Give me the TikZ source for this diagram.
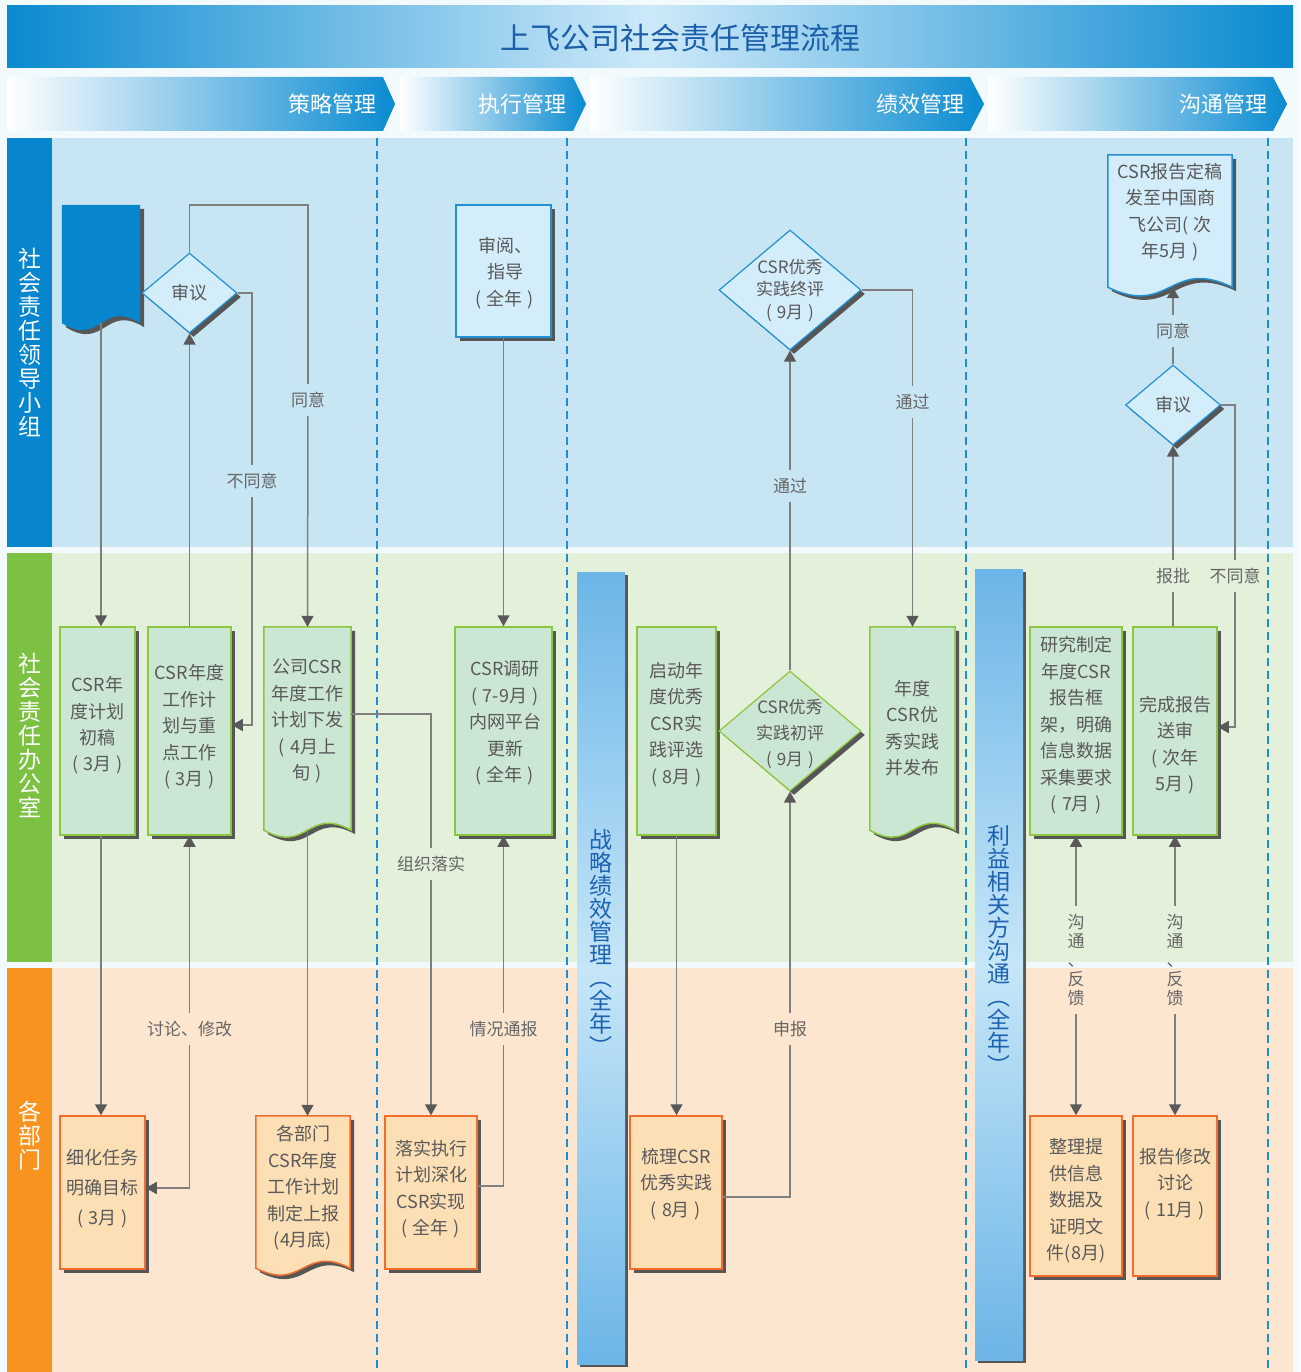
\documentclass[tikz,border=0pt]{standalone}
\usepackage{fontspec}
\setmainfont{Noto Sans CJK SC}
\usetikzlibrary{arrows.meta,shapes.geometric,shadows,calc}
\definecolor{pagebg}{HTML}{F3FAFE}
\definecolor{titleblue}{HTML}{0A8AD0}
\definecolor{titlelight}{HTML}{CDE9F9}
\definecolor{titletext}{HTML}{1B5EAA}
\definecolor{phaseblue}{HTML}{0A8BD1}
\definecolor{laneAbar}{HTML}{0786CE}
\definecolor{laneAbg}{HTML}{C8E5F4}
\definecolor{laneBbar}{HTML}{7DC143}
\definecolor{laneBbg}{HTML}{E3F0DA}
\definecolor{laneCbar}{HTML}{F7931E}
\definecolor{laneCbg}{HTML}{FCE6CF}
\definecolor{dashc}{HTML}{1A8ED6}
\definecolor{linec}{HTML}{7F7F7F}
\definecolor{arrowc}{HTML}{595959}
\definecolor{shadowc}{HTML}{565656}
\definecolor{txtc}{HTML}{595959}
\definecolor{lblc}{HTML}{666666}
\definecolor{bfill}{HTML}{D4EDFA}
\definecolor{bbord}{HTML}{2290D4}
\definecolor{gfill}{HTML}{CCE6D4}
\definecolor{gbord}{HTML}{8DC63F}
\definecolor{ofill}{HTML}{FDDFB5}
\definecolor{obord}{HTML}{F26C2B}
\definecolor{barblue}{HTML}{6BB5E7}
\definecolor{barlight}{HTML}{C6E6F8}
\definecolor{bartext}{HTML}{1E62B2}
\newcommand\lp{(\kern5pt}
\newcommand\rp{\kern5pt)}
\newcommand\docoutline[3]{%
  \path[#2] let \p1=(#1.south west), \p2=(#1.north east), \n1={\x2-\x1} in
    (\x1,\y2) -- (\x2,\y2) -- (\x2,\y1)
    .. controls ({\x1+0.5*\n1},{\y1+#3}) and ({\x1+0.5*\n1},{\y1-#3}) .. (\x1,\y1) -- cycle;}
\begin{document}
\begin{tikzpicture}[x=1pt,y=-1pt,
 cline/.style={draw=linec,line width=1.5pt},
 cend/.style={-{Triangle[width=12pt,length=11pt,color=arrowc]}},
 clabel/.style={font=\fontsize{17}{19}\selectfont,text=lblc,inner xsep=1pt,inner ysep=8pt,align=center},
 dshadow/.style={drop shadow={shadow xshift=4pt,shadow yshift=-4pt,fill=shadowc,opacity=1}},
 nbox/.style={rectangle,line width=1.5pt,inner sep=0pt,dshadow},
 gbox/.style={nbox,draw=gbord,fill=gfill},
 obox/.style={nbox,draw=obord,fill=ofill},
 bbox/.style={nbox,draw=bbord,fill=bfill},
 ndia/.style={diamond,inner sep=0pt,line width=1.2pt,dshadow},
 docnode/.style={rectangle,inner sep=0pt,draw=none,fill=none},
 ntext/.style={text=txtc,align=center,inner sep=0pt,font=\fontsize{18}{#1}\selectfont},
 ntext/.default=26.5,
 lanetxt/.style={text=white,align=center,inner sep=0pt,font=\fontsize{23}{24}\selectfont},
 bartxt/.style={text=bartext,align=center,inner sep=0pt,font=\fontsize{23}{23}\selectfont},
 phasetxt/.style={text=white,anchor=east,inner sep=0pt,font=\fontsize{22}{22}\selectfont},
 dashline/.style={draw=dashc,line width=2pt,dash pattern=on 8pt off 5pt}
]
\useasboundingbox (0,0) rectangle (1300,1372);
\fill[pagebg] (0,0) rectangle (1300,1372);
% title
\shade[left color=titleblue,right color=titleblue,middle color=titlelight] (7,6) rectangle (1293,68);
\node[text=titletext,inner sep=0pt,font=\fontsize{30}{30}\selectfont] (title) at (680,38) {上飞公司社会责任管理流程};
% phases
\shade[left color=white,right color=phaseblue] (7,77) -- (383,77) -- (395,104) -- (383,131) -- (7,131) -- cycle;
\shade[left color=white,right color=phaseblue] (400,77) -- (573,77) -- (586,104) -- (573,131) -- (400,131) -- cycle;
\shade[left color=white,right color=phaseblue] (590,77) -- (970,77) -- (984,104) -- (970,131) -- (590,131) -- cycle;
\shade[left color=white,right color=phaseblue] (988,77) -- (1273,77) -- (1287,104) -- (1273,131) -- (988,131) -- cycle;
\node[phasetxt] (p1) at (377,104) {策略管理};
\node[phasetxt] (p2) at (567,104) {执行管理};
\node[phasetxt] (p3) at (965,104) {绩效管理};
\node[phasetxt] (p4) at (1268,104) {沟通管理};
% lanes
\fill[laneAbg] (52,138) rectangle (1293,547);
\fill[laneAbar] (7,138) rectangle (52,547);
\fill[laneBbg] (52,553) rectangle (1293,962);
\fill[laneBbar] (7,553) rectangle (52,962);
\fill[laneCbg] (52,968) rectangle (1293,1372);
\fill[laneCbar] (7,968) rectangle (52,1372);
\node[lanetxt] (la) at (30,342) {社\\会\\责\\任\\领\\导\\小\\组};
\node[lanetxt] (lb) at (30,735) {社\\会\\责\\任\\办\\公\\室};
\node[lanetxt] (lc) at (30,1136) {各\\部\\门};
% dashed separators
\draw[dashline] (377,138) -- (377,1372);
\draw[dashline] (567,138) -- (567,1372);
\draw[dashline] (966,138) -- (966,1372);
\draw[dashline] (1268,138) -- (1268,1372);
% vertical bars
\fill[shadowc] (580,575) rectangle (628,1367);
\shade[top color=barblue,bottom color=barblue,middle color=barlight] (577,572) rectangle (625,1364);
\node[bartxt] (bt1) at (601,942) {战\\略\\绩\\效\\管\\理\\︵\\全\\年\\︶};
\fill[shadowc] (978,572) rectangle (1026,1363);
\shade[top color=barblue,bottom color=barblue,middle color=barlight] (975,569) rectangle (1023,1360);
\node[bartxt] (bt2) at (999,950) {利\\益\\相\\关\\方\\沟\\通\\︵\\全\\年\\︶};

% ===== lane 1 =====
\node[docnode,minimum width=78pt,minimum height=118pt] (docA) at (101,264) {};
\docoutline{docA}{fill=laneAbar,dshadow}{24}
\node[ndia,fill=bfill,draw=bbord,minimum width=95pt,minimum height=80pt] (dA) at (189.5,293) {};
\node[ntext] (dAt) at (dA) {审议};
\node[bbox,minimum width=95pt,minimum height=132pt] (sy) at (503.5,271) {};
\node[ntext] (syt) at (505,273) {审阅、\\指导\\\lp{}全年\rp{}};
\node[ndia,fill=bfill,draw=bbord,minimum width=142pt,minimum height=120pt] (dB) at (790,290) {};
\node[ntext=22.5,font=\fontsize{17}{22.5}\selectfont] (dBt) at (790,290.5) {CSR优秀\\实践终评\\\lp{}9月\rp{}};
\node[docnode,minimum width=124pt,minimum height=132pt] (doc2) at (1170,221) {};
\docoutline{doc2}{fill=bfill,draw=bbord,line width=1.5pt,dshadow}{30}
\node[ntext] (doc2t) at (1170,212) {CSR报告定稿\\发至中国商\\飞公司\lp{}次\\年5月\rp{}};
\node[ndia,fill=bfill,draw=bbord,minimum width=95pt,minimum height=80pt] (dC) at (1173,405) {};
\node[ntext] (dCt) at (dC) {审议};

% ===== lane 2 =====
\node[gbox,minimum width=75pt,minimum height=208pt] (g1) at (97.5,731) {};
\node[ntext=26.3] (g1t) at (97.5,725.5) {CSR年\\度计划\\初稿\\\lp{}3月\rp{}};
\node[gbox,minimum width=83pt,minimum height=208pt] (g2) at (189.5,731) {};
\node[ntext] (g2t) at (189.5,727) {CSR年度\\工作计\\划与重\\点工作\\\lp{}3月\rp{}};
\node[docnode,minimum width=87pt,minimum height=203pt] (doc3) at (307.5,728.5) {};
\docoutline{doc3}{fill=gfill,draw=gbord,line width=1.5pt,dshadow}{24}
\node[ntext] (doc3t) at (307.5,721) {公司CSR\\年度工作\\计划下发\\\lp{}4月上\\旬\rp{}};
\node[gbox,minimum width=97pt,minimum height=208pt] (g3) at (503.5,731) {};
\node[ntext] (g3t) at (505,723) {CSR调研\\\lp{}7-9月\rp{}\\内网平台\\更新\\\lp{}全年\rp{}};
\node[gbox,minimum width=79pt,minimum height=208pt] (g4) at (676.5,731) {};
\node[ntext] (g4t) at (676.5,724.5) {启动年\\度优秀\\CSR实\\践评选\\\lp{}8月\rp{}};
\node[ndia,fill=gfill,draw=gbord,minimum width=142pt,minimum height=120pt] (dD) at (790,731) {};
\node[ntext=26,font=\fontsize{17}{26}\selectfont] (dDt) at (790,734) {CSR优秀\\实践初评\\\lp{}9月\rp{}};
\node[docnode,minimum width=85pt,minimum height=203pt] (doc4) at (912.5,728.5) {};
\docoutline{doc4}{fill=gfill,draw=gbord,line width=1.5pt,dshadow}{24}
\node[ntext] (doc4t) at (912.5,728) {年度\\CSR优\\秀实践\\并发布};
\node[gbox,minimum width=92pt,minimum height=208pt] (g5) at (1076,731) {};
\node[ntext] (g5t) at (1076,725.5) {研究制定\\年度CSR\\报告框\\架，明确\\信息数据\\采集要求\\\lp{}7月\rp{}};
\node[gbox,minimum width=84pt,minimum height=208pt] (g6) at (1175,731) {};
\node[ntext] (g6t) at (1175,745) {完成报告\\送审\\\lp{}次年\\5月\rp{}};

% ===== lane 3 =====
\node[obox,minimum width=85pt,minimum height=153pt] (o1) at (102.5,1192.5) {};
\node[ntext=30] (o1t) at (102.5,1189) {细化任务\\明确目标\\\lp{}3月\rp{}};
\node[docnode,minimum width=94pt,minimum height=152pt] (doc5) at (303,1192) {};
\docoutline{doc5}{fill=ofill,draw=obord,line width=1.5pt,dshadow}{24}
\node[ntext] (doc5t) at (303,1188) {各部门\\CSR年度\\工作计划\\制定上报\\(4月底)};
\node[obox,minimum width=92pt,minimum height=153pt] (o3) at (431,1192.5) {};
\node[ntext] (o3t) at (431,1189) {落实执行\\计划深化\\CSR实现\\\lp{}全年\rp{}};
\node[obox,minimum width=92pt,minimum height=153pt] (o4) at (676,1192.5) {};
\node[ntext] (o4t) at (676,1184) {梳理CSR\\优秀实践\\\lp{}8月\rp{}};
\node[obox,minimum width=92pt,minimum height=160pt] (o5) at (1076,1196) {};
\node[ntext] (o5t) at (1076,1201) {整理提\\供信息\\数据及\\证明文\\件(8月)};
\node[obox,minimum width=84pt,minimum height=160pt] (o6) at (1175,1196) {};
\node[ntext] (o6t) at (1175,1184) {报告修改\\讨论\\\lp{}11月\rp{}};

% ===== connector labels =====
\node[clabel] (lA) at (308,400) {同意};
\node[clabel] (lB) at (252,481) {不同意};
\node[clabel] (lC) at (189.5,1029) {讨论、修改};
\node[clabel] (lD) at (431,864) {组织落实};
\node[clabel] (lE) at (503.5,1029) {情况通报};
\node[clabel] (lF) at (790,1029) {申报};
\node[clabel] (lG) at (790,486) {通过};
\node[clabel] (lH) at (912.5,402) {通过};
\node[clabel] (lI) at (1173,331) {同意};
\node[clabel] (lJ) at (1173,576) {报批};
\node[clabel] (lK) at (1235,576) {不同意};
\node[clabel] (lL) at (1076,960) {沟\\通\\、\\反\\馈};
\node[clabel] (lM) at (1175,960) {沟\\通\\、\\反\\馈};

% ===== connectors =====
\draw[cline,cend] (docA.south) -- (docA.south |- g1.north);
\draw[cline,cend] (docA.south |- g1.south) -- (docA.south |- o1.north);
\draw[cline,cend] (g2.north) -- (dA.south);
\coordinate (c1) at (189.5,205);
\coordinate (c2) at (308,205);
\draw[cline] (dA.north) -- (c1) -- (c2) -- (lA);
\draw[cline,cend] (lA) -- (doc3.north);
\coordinate (c3) at (252,293);
\coordinate (c4) at (252,725);
\draw[cline] (dA.east) -- (c3) -- (lB);
\draw[cline,cend] (lB) -- (c4) -- (c4 -| g2.east);
\coordinate (c5) at (189.5,1188);
\draw[cline,cend] (lC) -- (g2.south);
\draw[cline,cend] (lC) -- (c5) -- (c5 -| o1.east);
\draw[cline,cend] (doc3.south) -- (doc3.south |- doc5.north);
\coordinate (c6) at (431,714);
\draw[cline] (doc3.east |- c6) -- (c6) -- (lD);
\draw[cline,cend] (lD) -- (o3.north);
\draw[cline,cend] (sy.south) -- (g3.north);
\coordinate (c7) at (503.5,1186);
\draw[cline] (o3.east |- c7) -- (c7) -- (lE);
\draw[cline,cend] (lE) -- (g3.south);
\draw[cline,cend] (g4.south) -- (g4.south |- o4.north);
\coordinate (c8) at (790,1197);
\draw[cline] (o4.east |- c8) -- (c8) -- (lF);
\draw[cline,cend] (lF) -- (dD.south);
\draw[cline] (dD.north) -- (lG);
\draw[cline,cend] (lG) -- (dB.south);
\coordinate (c9) at (912.5,290);
\draw[cline] (dB.east) -- (c9) -- (lH);
\draw[cline,cend] (lH) -- (doc4.north);
\draw[cline] (dC.north) -- (lI);
\draw[cline,cend] (lI) -- (dC.north |- doc2.south);
\draw[cline] (dC.south |- g6.north) -- (lJ);
\draw[cline,cend] (lJ) -- (dC.south);
\coordinate (c10) at (1235,405);
\coordinate (c11) at (1235,727);
\draw[cline] (dC.east) -- (c10) -- (lK);
\draw[cline,cend] (lK) -- (c11) -- (c11 -| g6.east);
\draw[cline,cend] (lL) -- (g5.south);
\draw[cline,cend] (lL) -- (o5.north);
\draw[cline,cend] (lM) -- (g6.south);
\draw[cline,cend] (lM) -- (o6.north);
\end{tikzpicture}
\end{document}
